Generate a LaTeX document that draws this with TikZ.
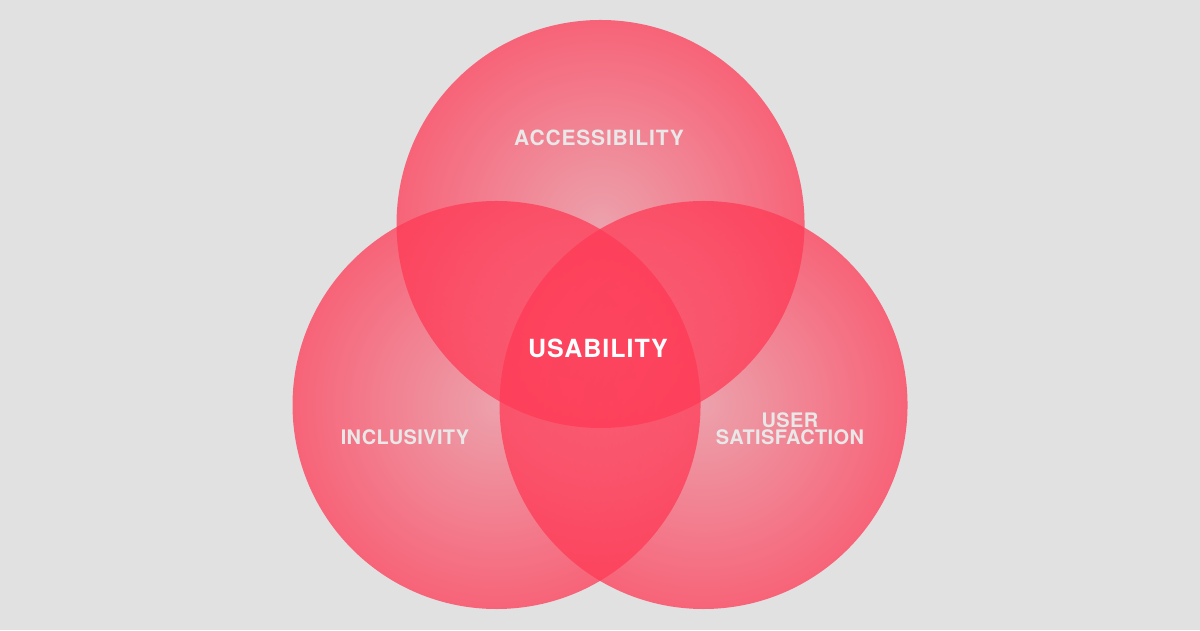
\documentclass[tikz,border=0pt]{standalone}
\usepackage{fontspec}
\setmainfont{TeX Gyre Heros}
\usetikzlibrary{fadings}
\definecolor{bgc}{HTML}{E1E1E1}
\definecolor{redc}{RGB}{255,58,86}
\definecolor{labc}{HTML}{E8E8E8}
\tikzfading[name=circfade, inner color=transparent!62, outer color=transparent!25]
\newfontfamily\labfont[LetterSpace=2]{TeX Gyre Heros}
\newfontfamily\accfont[LetterSpace=4]{TeX Gyre Heros}
\newfontfamily\usafont[LetterSpace=4]{TeX Gyre Heros}
\tikzset{
  venn/.style={fill=redc, path fading=circfade},
  lab/.style={text=labc, inner sep=0pt, anchor=base, font=\labfont\bfseries\fontsize{20}{17}\selectfont, align=center},
}
\begin{document}
\begin{tikzpicture}[x=1pt,y=-1pt]
\fill[bgc] (0,0) rectangle (1200,630);
\useasboundingbox (0,0) rectangle (1200,630);
\fill[venn] (600.5,224) circle (204);
\fill[venn] (496.5,405) circle (204);
\fill[venn] (703.5,405) circle (204);
\node[lab, font=\accfont\bfseries\fontsize{21}{21}\selectfont] (acc) at (599,145.5) {ACCESSIBILITY};
\node[lab] (inc) at (405,444) {INCLUSIVITY};
\node[lab, anchor=north] (sat) at (790,412.6) {USER\\SATISFACTION};
\node[lab, text=white, font=\usafont\bfseries\fontsize{25}{25}\selectfont] (usa) at (598,357) {USABILITY};
\end{tikzpicture}
\end{document}
